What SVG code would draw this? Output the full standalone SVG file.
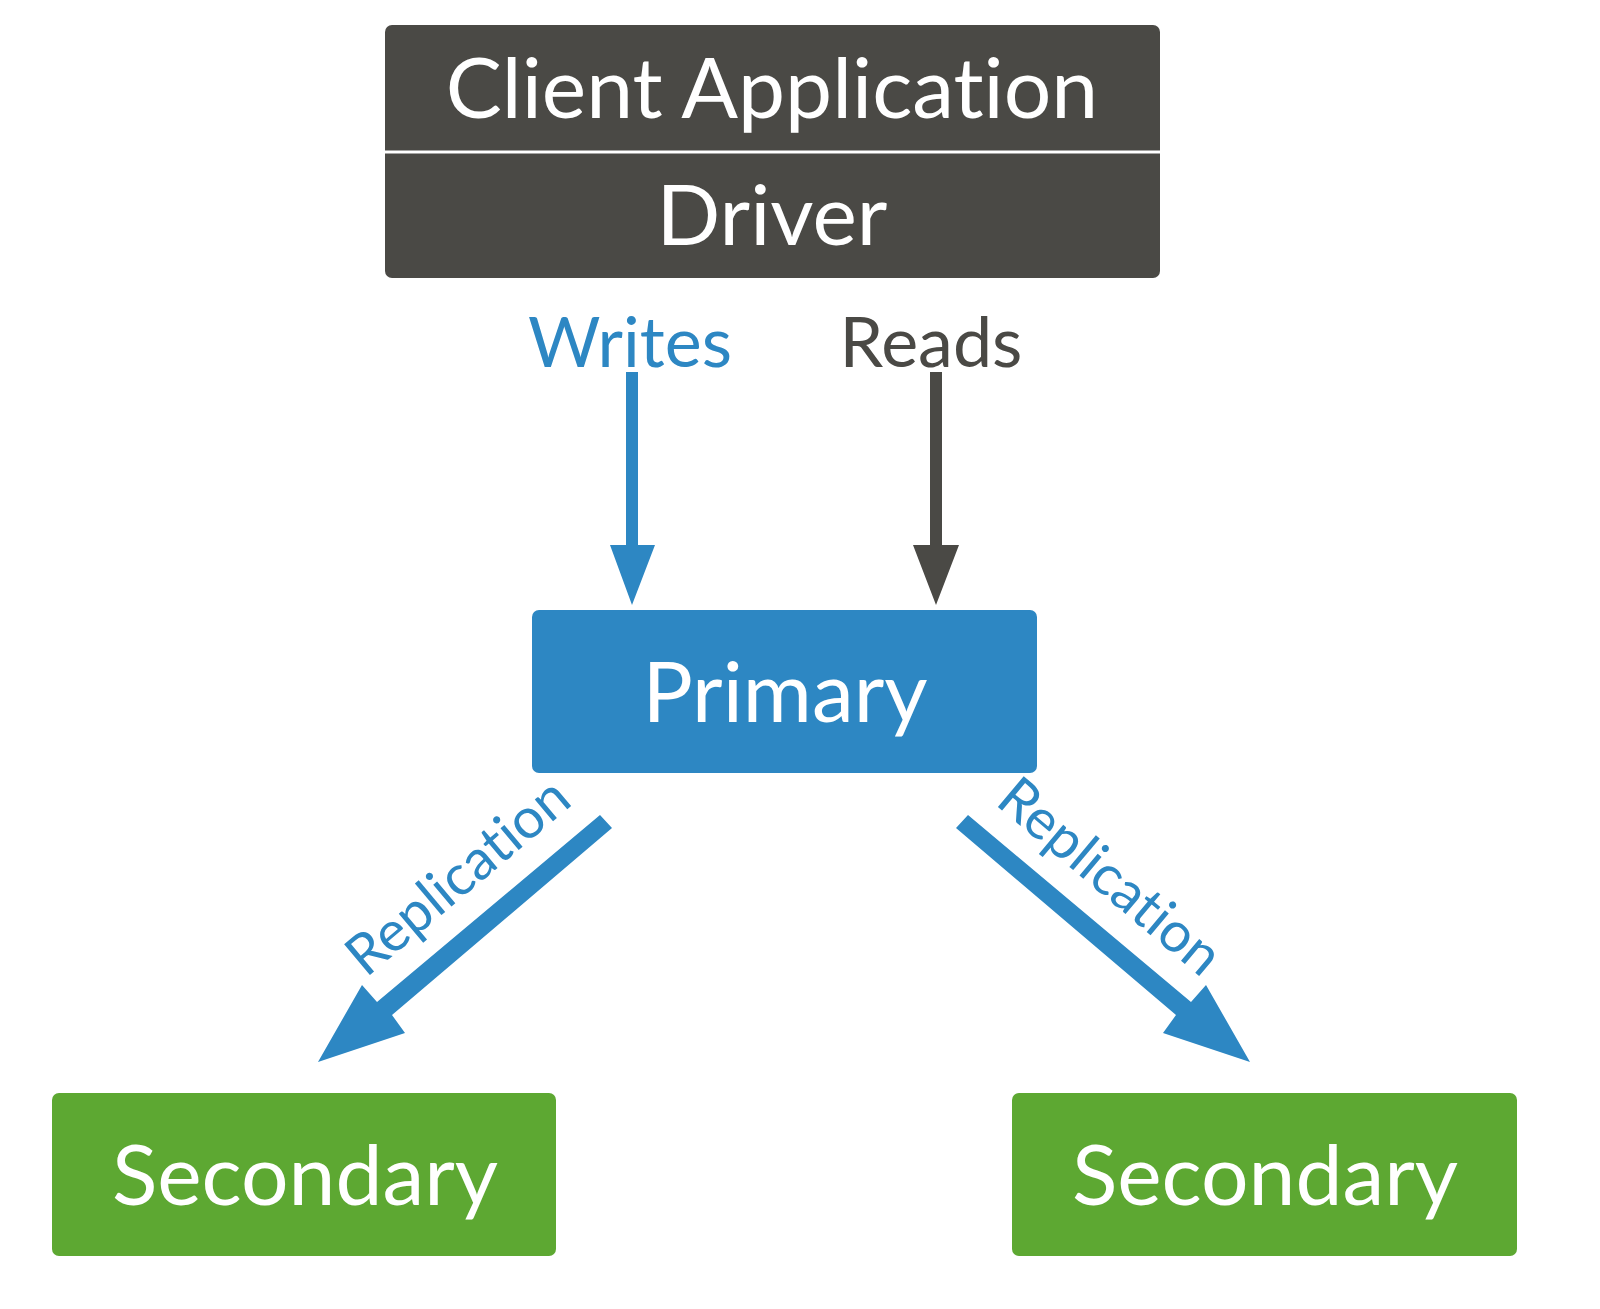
<svg xmlns="http://www.w3.org/2000/svg" width="1600" height="1309" viewBox="0 0 1600 1309">
<style>
text{font-family:Lato,"Open Sans","Liberation Sans",sans-serif;text-anchor:middle;font-variant-ligatures:none}
.w{fill:#fff}
.b{fill:#2d87c3}
.d{fill:#4a4945}
</style>
<rect width="1600" height="1309" fill="#fff"/>
<g id="client">
<rect x="385" y="25" width="775" height="253" rx="7" class="d"/>
<line x1="385" y1="152" x2="1160" y2="152" stroke="#fff" stroke-width="3"/>
<text x="772" y="118" font-size="84" class="w">Client Application</text>
<text x="772" y="245" font-size="84" class="w">Driver</text>
</g>
<g id="primary">
<rect x="532" y="610" width="505" height="163" rx="7" class="b"/>
<text x="785" y="722" font-size="84" class="w">Primary</text>
</g>
<g id="secondary1">
<rect x="52" y="1093" width="504" height="163" rx="7" fill="#5da832"/>
<text x="305" y="1205" font-size="84" class="w">Secondary</text>
</g>
<g id="secondary2">
<rect x="1012" y="1093" width="505" height="163" rx="7" fill="#5da832"/>
<text x="1265" y="1205" font-size="84" class="w">Secondary</text>
</g>
<g id="connectors">
<text x="630" y="367" font-size="70" class="b">Writes</text>
<text x="931" y="367" font-size="70" class="d">Reads</text>
<polygon points="626,372 638,372 638,545 655,545 632,605 610,545 626,545" class="b"/>
<polygon points="930,372 942,372 942,545 959,545 936,605 913,545 930,545" class="d"/>
<polygon points="600,815 612,828 392,1015 405,1033 318,1062 362,985 377,1002" class="b"/>
<polygon points="968,815 956,828 1176,1015 1163,1033 1250,1062 1206,985 1191,1002" class="b"/>
<text transform="translate(470,891) rotate(-40)" font-size="56" class="b">Replication</text>
<text transform="translate(1098,891) rotate(40)" font-size="56" class="b">Replication</text>
</g>
</svg>
